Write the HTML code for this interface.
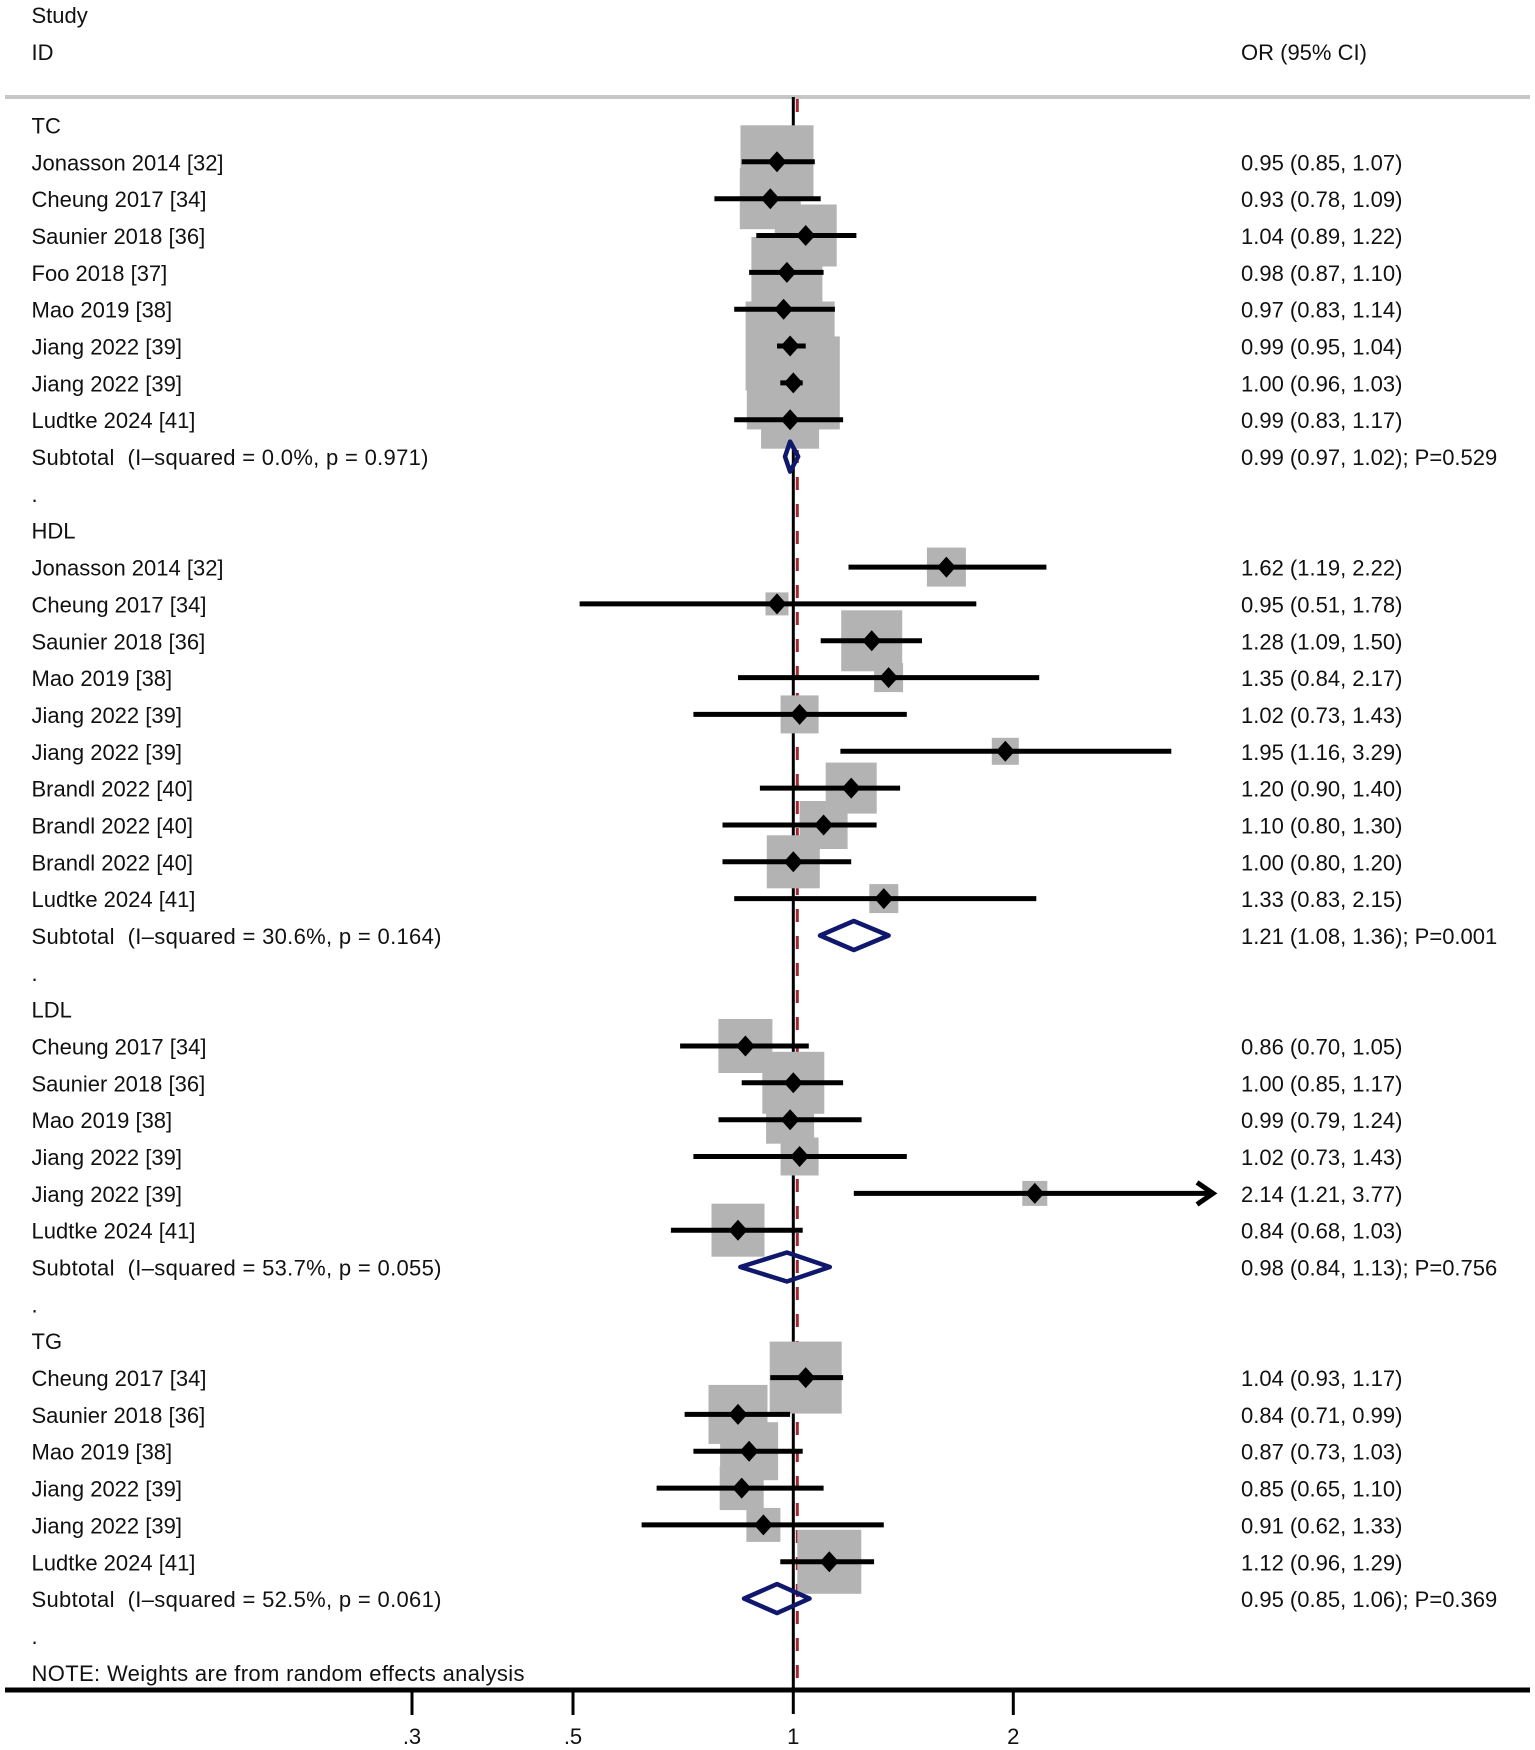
<!DOCTYPE html>
<html>
<head>
<meta charset="utf-8">
<style>
  html,body{margin:0;padding:0;background:#fff;}
  svg{display:block;}
  text{font-family:"Liberation Sans",sans-serif;font-size:22px;fill:#111;white-space:pre;}
</style>
</head>
<body>
<svg width="1535" height="1750" viewBox="0 0 1535 1750" xmlns="http://www.w3.org/2000/svg">
  <rect x="0" y="0" width="1535" height="1750" fill="#fff"/>

  <!-- header -->
  <text x="31.5" y="23">Study</text>
  <text x="31.5" y="60">ID</text>
  <text x="1241" y="60">OR (95% CI)</text>
  <rect x="5" y="95" width="1525" height="4" fill="#c6c6c6"/>

  <!-- null line & overall dashed line -->
  <line x1="793.3" y1="97" x2="793.3" y2="1714" stroke="#000" stroke-width="3"/>
  <line x1="797.3" y1="99" x2="797.3" y2="1688" stroke="#a3262f" stroke-width="3" stroke-dasharray="13 14"/>

  <!-- boxes -->
  <g fill="#b3b3b3">
    <!-- TC -->
    <rect x="740.5" y="125.3" width="73" height="73"/>
    <rect x="739.8" y="168.2" width="61" height="61"/>
    <rect x="774.7" y="204.5" width="62" height="62"/>
    <rect x="751.4" y="236.9" width="71" height="71"/>
    <rect x="752.6" y="278.2" width="62" height="62"/>
    <rect x="745.6" y="301.5" width="89" height="89"/>
    <rect x="746.8" y="336.4" width="93" height="93"/>
    <rect x="761.1" y="390.7" width="58" height="58"/>
    <!-- HDL -->
    <rect x="926.9" y="547.6" width="39" height="39"/>
    <rect x="765.5" y="592.4" width="23" height="23"/>
    <rect x="841.2" y="610.3" width="61" height="61"/>
    <rect x="874.1" y="663.1" width="29" height="29"/>
    <rect x="780.6" y="695.4" width="38" height="38"/>
    <rect x="991.8" y="737.8" width="27" height="27"/>
    <rect x="825.7" y="762.6" width="51" height="51"/>
    <rect x="799.6" y="801.0" width="48" height="48"/>
    <rect x="766.8" y="835.3" width="53" height="53"/>
    <rect x="869.3" y="884.1" width="29" height="29"/>
    <!-- LDL -->
    <rect x="718.4" y="1019.0" width="54" height="54"/>
    <rect x="762.3" y="1051.8" width="62" height="62"/>
    <rect x="766.1" y="1095.7" width="48" height="48"/>
    <rect x="780.6" y="1137.5" width="38" height="38"/>
    <rect x="1022.3" y="1180.9" width="25" height="25"/>
    <rect x="711.5" y="1203.7" width="53" height="53"/>
    <!-- TG -->
    <rect x="769.7" y="1341.6" width="72" height="72"/>
    <rect x="708.5" y="1384.9" width="59" height="59"/>
    <rect x="720.1" y="1422.2" width="58" height="58"/>
    <rect x="719.7" y="1466.1" width="44" height="44"/>
    <rect x="746.4" y="1507.9" width="34" height="34"/>
    <rect x="797.3" y="1529.8" width="64" height="64"/>
  </g>

  <!-- CI lines -->
  <g stroke="#000" stroke-width="5" fill="none">
    <!-- TC -->
    <line x1="741.7" y1="161.8" x2="814.8" y2="161.8"/>
    <line x1="714.4" y1="198.7" x2="820.7" y2="198.7"/>
    <line x1="756.3" y1="235.5" x2="856.4" y2="235.5"/>
    <line x1="749.1" y1="272.4" x2="823.6" y2="272.4"/>
    <line x1="734.2" y1="309.2" x2="834.9" y2="309.2"/>
    <line x1="777.0" y1="346.0" x2="805.7" y2="346.0"/>
    <line x1="780.3" y1="382.9" x2="802.7" y2="382.9"/>
    <line x1="734.2" y1="419.7" x2="843.1" y2="419.7"/>
    <!-- HDL -->
    <line x1="848.5" y1="567.1" x2="1046.4" y2="567.1"/>
    <line x1="579.6" y1="603.9" x2="976.3" y2="603.9"/>
    <line x1="820.7" y1="640.8" x2="922.0" y2="640.8"/>
    <line x1="738.0" y1="677.6" x2="1039.2" y2="677.6"/>
    <line x1="693.4" y1="714.4" x2="906.8" y2="714.4"/>
    <line x1="840.4" y1="751.3" x2="1171.3" y2="751.3"/>
    <line x1="759.9" y1="788.1" x2="900.1" y2="788.1"/>
    <line x1="722.5" y1="825.0" x2="876.6" y2="825.0"/>
    <line x1="722.5" y1="861.8" x2="851.2" y2="861.8"/>
    <line x1="734.2" y1="898.6" x2="1036.3" y2="898.6"/>
    <!-- LDL -->
    <line x1="680.1" y1="1046.0" x2="808.8" y2="1046.0"/>
    <line x1="741.7" y1="1082.8" x2="843.1" y2="1082.8"/>
    <line x1="718.5" y1="1119.7" x2="861.6" y2="1119.7"/>
    <line x1="693.4" y1="1156.5" x2="906.8" y2="1156.5"/>
    <line x1="853.8" y1="1193.4" x2="1212" y2="1193.4"/>
    <polyline points="1197,1182.4 1213,1193.4 1197,1204.4" stroke-linejoin="miter"/>
    <line x1="670.9" y1="1230.2" x2="802.7" y2="1230.2"/>
    <!-- TG -->
    <line x1="770.3" y1="1377.6" x2="843.1" y2="1377.6"/>
    <line x1="684.6" y1="1414.4" x2="790.1" y2="1414.4"/>
    <line x1="693.4" y1="1451.2" x2="802.7" y2="1451.2"/>
    <line x1="656.6" y1="1488.1" x2="823.6" y2="1488.1"/>
    <line x1="641.6" y1="1524.9" x2="883.8" y2="1524.9"/>
    <line x1="780.3" y1="1561.8" x2="874.1" y2="1561.8"/>
  </g>

  <!-- point estimates -->
  <g fill="#000">
    <polygon points="767.5,161.8 777.0,151.3 786.5,161.8 777.0,172.3"/>
    <polygon points="760.8,198.7 770.3,188.2 779.8,198.7 770.3,209.2"/>
    <polygon points="796.2,235.5 805.7,225.0 815.2,235.5 805.7,246.0"/>
    <polygon points="777.4,272.4 786.9,261.9 796.4,272.4 786.9,282.9"/>
    <polygon points="774.1,309.2 783.6,298.7 793.1,309.2 783.6,319.7"/>
    <polygon points="780.6,346.0 790.1,335.5 799.6,346.0 790.1,356.5"/>
    <polygon points="783.8,382.9 793.3,372.4 802.8,382.9 793.3,393.4"/>
    <polygon points="780.6,419.7 790.1,409.2 799.6,419.7 790.1,430.2"/>

    <polygon points="936.9,567.1 946.4,556.6 955.9,567.1 946.4,577.6"/>
    <polygon points="767.5,603.9 777.0,593.4 786.5,603.9 777.0,614.4"/>
    <polygon points="862.2,640.8 871.7,630.3 881.2,640.8 871.7,651.3"/>
    <polygon points="879.1,677.6 888.6,667.1 898.1,677.6 888.6,688.1"/>
    <polygon points="790.1,714.4 799.6,703.9 809.1,714.4 799.6,724.9"/>
    <polygon points="995.8,751.3 1005.3,740.8 1014.8,751.3 1005.3,761.8"/>
    <polygon points="841.7,788.1 851.2,777.6 860.7,788.1 851.2,798.6"/>
    <polygon points="814.1,825.0 823.6,814.5 833.1,825.0 823.6,835.5"/>
    <polygon points="783.8,861.8 793.3,851.3 802.8,861.8 793.3,872.3"/>
    <polygon points="874.3,898.6 883.8,888.1 893.3,898.6 883.8,909.1"/>

    <polygon points="735.9,1046.0 745.4,1035.5 754.9,1046.0 745.4,1056.5"/>
    <polygon points="783.8,1082.8 793.3,1072.3 802.8,1082.8 793.3,1093.3"/>
    <polygon points="780.6,1119.7 790.1,1109.2 799.6,1119.7 790.1,1130.2"/>
    <polygon points="790.1,1156.5 799.6,1146.0 809.1,1156.5 799.6,1167.0"/>
    <polygon points="1025.3,1193.4 1034.8,1182.9 1044.3,1193.4 1034.8,1203.9"/>
    <polygon points="728.5,1230.2 738.0,1219.7 747.5,1230.2 738.0,1240.7"/>

    <polygon points="796.2,1377.6 805.7,1367.1 815.2,1377.6 805.7,1388.1"/>
    <polygon points="728.5,1414.4 738.0,1403.9 747.5,1414.4 738.0,1424.9"/>
    <polygon points="739.6,1451.2 749.1,1440.7 758.6,1451.2 749.1,1461.7"/>
    <polygon points="732.2,1488.1 741.7,1477.6 751.2,1488.1 741.7,1498.6"/>
    <polygon points="753.9,1524.9 763.4,1514.4 772.9,1524.9 763.4,1535.4"/>
    <polygon points="819.8,1561.8 829.3,1551.3 838.8,1561.8 829.3,1572.3"/>
  </g>

  <!-- subtotal diamonds -->
  <g fill="none" stroke="#10186e" stroke-width="4.5" stroke-linejoin="round">
    <polygon points="785.0,456.6 790.1,441.6 798.2,456.6 790.1,471.6"/>
    <polygon points="820.0,935.5 853.8,921.0 888.6,935.5 853.8,950.0"/>
    <polygon points="740.3,1267.0 786.9,1252.5 829.8,1267.0 786.9,1281.5"/>
    <polygon points="744.0,1598.6 777.0,1584.1 809.5,1598.6 777.0,1613.1"/>
  </g>

  <!-- axis -->
  <rect x="5" y="1687.5" width="1525" height="5" fill="#000"/>
  <g stroke="#000" stroke-width="3">
    <line x1="412" y1="1690" x2="412" y2="1715"/>
    <line x1="573" y1="1690" x2="573" y2="1715"/>
    <line x1="1013.3" y1="1690" x2="1013.3" y2="1715"/>
  </g>
  <g text-anchor="middle">
    <text x="412" y="1744">.3</text>
    <text x="573" y="1744">.5</text>
    <text x="793.3" y="1744">1</text>
    <text x="1013.3" y="1744">2</text>
  </g>

  <!-- left labels -->
  <g>
    <text x="31.5" y="133.5">TC</text>
    <text x="31.5" y="170.3">Jonasson 2014 [32]</text>
    <text x="31.5" y="207.2">Cheung 2017 [34]</text>
    <text x="31.5" y="244.0">Saunier 2018 [36]</text>
    <text x="31.5" y="280.9">Foo 2018 [37]</text>
    <text x="31.5" y="317.7">Mao 2019 [38]</text>
    <text x="31.5" y="354.5">Jiang 2022 [39]</text>
    <text x="31.5" y="391.4">Jiang 2022 [39]</text>
    <text x="31.5" y="428.2">Ludtke 2024 [41]</text>
    <text x="31.5" y="465.1" textLength="397" lengthAdjust="spacing">Subtotal  (I–squared = 0.0%, p = 0.971)</text>
    <text x="31.5" y="501.9">.</text>
    <text x="31.5" y="538.7">HDL</text>
    <text x="31.5" y="575.6">Jonasson 2014 [32]</text>
    <text x="31.5" y="612.4">Cheung 2017 [34]</text>
    <text x="31.5" y="649.3">Saunier 2018 [36]</text>
    <text x="31.5" y="686.1">Mao 2019 [38]</text>
    <text x="31.5" y="722.9">Jiang 2022 [39]</text>
    <text x="31.5" y="759.8">Jiang 2022 [39]</text>
    <text x="31.5" y="796.6">Brandl 2022 [40]</text>
    <text x="31.5" y="833.5">Brandl 2022 [40]</text>
    <text x="31.5" y="870.3">Brandl 2022 [40]</text>
    <text x="31.5" y="907.1">Ludtke 2024 [41]</text>
    <text x="31.5" y="944.0" textLength="410" lengthAdjust="spacing">Subtotal  (I–squared = 30.6%, p = 0.164)</text>
    <text x="31.5" y="980.8">.</text>
    <text x="31.5" y="1017.7">LDL</text>
    <text x="31.5" y="1054.5">Cheung 2017 [34]</text>
    <text x="31.5" y="1091.3">Saunier 2018 [36]</text>
    <text x="31.5" y="1128.2">Mao 2019 [38]</text>
    <text x="31.5" y="1165.0">Jiang 2022 [39]</text>
    <text x="31.5" y="1201.9">Jiang 2022 [39]</text>
    <text x="31.5" y="1238.7">Ludtke 2024 [41]</text>
    <text x="31.5" y="1275.5" textLength="410" lengthAdjust="spacing">Subtotal  (I–squared = 53.7%, p = 0.055)</text>
    <text x="31.5" y="1312.4">.</text>
    <text x="31.5" y="1349.2">TG</text>
    <text x="31.5" y="1386.1">Cheung 2017 [34]</text>
    <text x="31.5" y="1422.9">Saunier 2018 [36]</text>
    <text x="31.5" y="1459.7">Mao 2019 [38]</text>
    <text x="31.5" y="1496.6">Jiang 2022 [39]</text>
    <text x="31.5" y="1533.4">Jiang 2022 [39]</text>
    <text x="31.5" y="1570.3">Ludtke 2024 [41]</text>
    <text x="31.5" y="1607.1" textLength="410" lengthAdjust="spacing">Subtotal  (I–squared = 52.5%, p = 0.061)</text>
    <text x="31.5" y="1643.9">.</text>
    <text x="31.5" y="1680.8" textLength="493" lengthAdjust="spacing">NOTE: Weights are from random effects analysis</text>
  </g>

  <!-- right labels -->
  <g>
    <text x="1241" y="170.3">0.95 (0.85, 1.07)</text>
    <text x="1241" y="207.2">0.93 (0.78, 1.09)</text>
    <text x="1241" y="244.0">1.04 (0.89, 1.22)</text>
    <text x="1241" y="280.9">0.98 (0.87, 1.10)</text>
    <text x="1241" y="317.7">0.97 (0.83, 1.14)</text>
    <text x="1241" y="354.5">0.99 (0.95, 1.04)</text>
    <text x="1241" y="391.4">1.00 (0.96, 1.03)</text>
    <text x="1241" y="428.2">0.99 (0.83, 1.17)</text>
    <text x="1241" y="465.1">0.99 (0.97, 1.02); P=0.529</text>
    <text x="1241" y="575.6">1.62 (1.19, 2.22)</text>
    <text x="1241" y="612.4">0.95 (0.51, 1.78)</text>
    <text x="1241" y="649.3">1.28 (1.09, 1.50)</text>
    <text x="1241" y="686.1">1.35 (0.84, 2.17)</text>
    <text x="1241" y="722.9">1.02 (0.73, 1.43)</text>
    <text x="1241" y="759.8">1.95 (1.16, 3.29)</text>
    <text x="1241" y="796.6">1.20 (0.90, 1.40)</text>
    <text x="1241" y="833.5">1.10 (0.80, 1.30)</text>
    <text x="1241" y="870.3">1.00 (0.80, 1.20)</text>
    <text x="1241" y="907.1">1.33 (0.83, 2.15)</text>
    <text x="1241" y="944.0">1.21 (1.08, 1.36); P=0.001</text>
    <text x="1241" y="1054.5">0.86 (0.70, 1.05)</text>
    <text x="1241" y="1091.3">1.00 (0.85, 1.17)</text>
    <text x="1241" y="1128.2">0.99 (0.79, 1.24)</text>
    <text x="1241" y="1165.0">1.02 (0.73, 1.43)</text>
    <text x="1241" y="1201.9">2.14 (1.21, 3.77)</text>
    <text x="1241" y="1238.7">0.84 (0.68, 1.03)</text>
    <text x="1241" y="1275.5">0.98 (0.84, 1.13); P=0.756</text>
    <text x="1241" y="1386.1">1.04 (0.93, 1.17)</text>
    <text x="1241" y="1422.9">0.84 (0.71, 0.99)</text>
    <text x="1241" y="1459.7">0.87 (0.73, 1.03)</text>
    <text x="1241" y="1496.6">0.85 (0.65, 1.10)</text>
    <text x="1241" y="1533.4">0.91 (0.62, 1.33)</text>
    <text x="1241" y="1570.3">1.12 (0.96, 1.29)</text>
    <text x="1241" y="1607.1">0.95 (0.85, 1.06); P=0.369</text>
  </g>
</svg>
</body>
</html>
